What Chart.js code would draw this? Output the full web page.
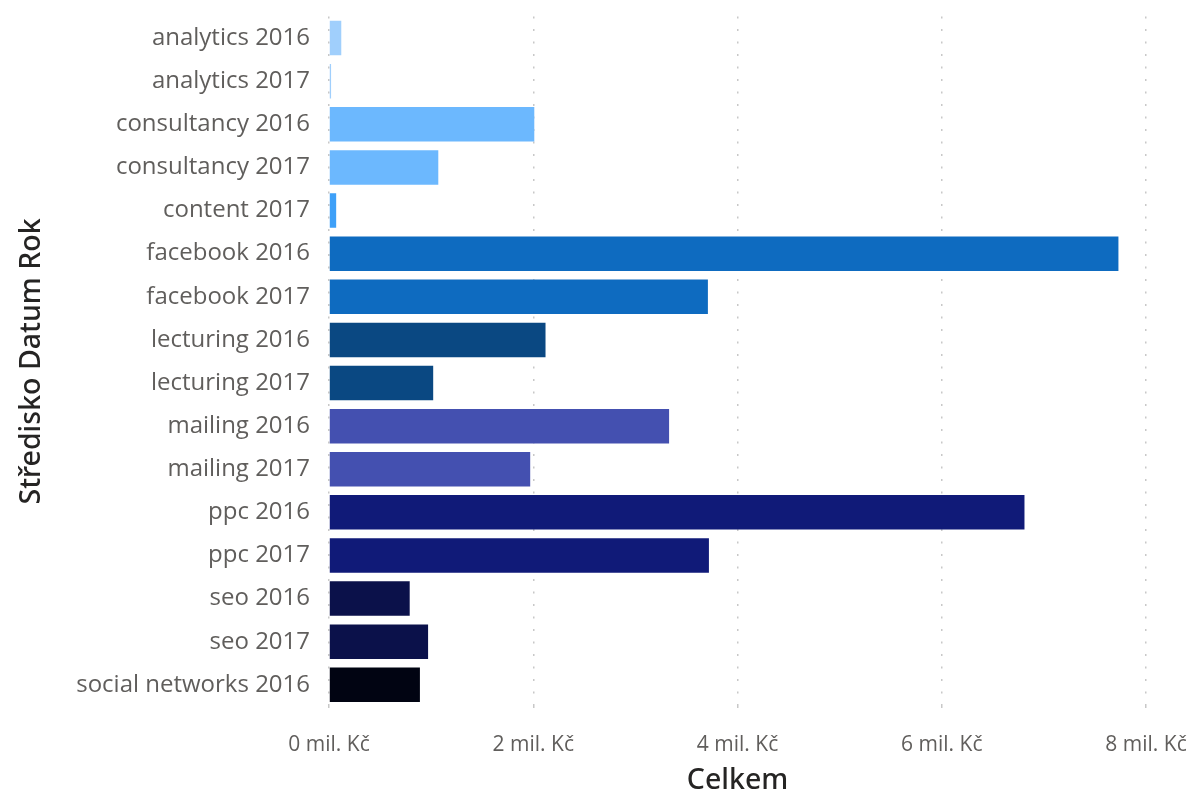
<!DOCTYPE html>
<html>
<head>
<meta charset="utf-8">
<script src="https://cdn.jsdelivr.net/npm/chart.js@4/dist/chart.umd.min.js"></script>
<style>
  body { margin: 0; background: #fff; }
  #wrap { width: 1192px; height: 796px; }
</style>
</head>
<body>
<div id="wrap"><canvas id="chart"></canvas></div>
<script>
const labels = [
  "analytics 2016", "analytics 2017", "consultancy 2016", "consultancy 2017",
  "content 2017", "facebook 2016", "facebook 2017", "lecturing 2016",
  "lecturing 2017", "mailing 2016", "mailing 2017", "ppc 2016",
  "ppc 2017", "seo 2016", "seo 2017", "social networks 2016"
];
// celkem v mil. Kč
const totals = [0.12, 0.02, 2.01, 1.07, 0.07, 7.73, 3.71, 2.12, 1.02, 3.33, 1.97, 6.81, 3.72, 0.79, 0.97, 0.89];
const colors = [
  "#a0cffc", "#a0cffc", "#6cb8fe", "#6cb8fe", "#3ea0f8", "#0e6bc0", "#0e6bc0",
  "#0a4882", "#0a4882", "#4450b0", "#4450b0", "#101a78", "#101a78",
  "#0b114a", "#0b114a", "#010412"
];
const xTicks = [0, 2, 4, 6, 8];

const chart = new Chart(document.getElementById("chart"), {
  type: "bar",
  data: {
    labels: labels,
    datasets: [{
      data: totals,
      backgroundColor: colors,
      categoryPercentage: 0.8,
      barPercentage: 1.0,
    }],
  },
  options: {
    indexAxis: "y",
    responsive: true,
    maintainAspectRatio: false,
    animation: false,
    layout: { padding: { top: 0, right: 0, left: 15, bottom: -1.9 } },
    plugins: { legend: { display: false }, tooltip: { enabled: false } },
    scales: {
      x: {
        min: 0,
        max: 8,
        afterBuildTicks: (axis) => { axis.ticks = xTicks.map((v) => ({ value: v })); },
        // keep the 8 mil. label close to the right edge
        afterFit: (axis) => { axis.paddingRight = 46; },
        grid: {
          color: "#c8c8c8",
          lineWidth: 1.5,
          drawTicks: true,
          tickLength: 12,
          tickColor: "#c8c8c8",
          tickBorderDash: [2, 10.5],
        },
        border: { display: false, dash: [2, 10.5] },
        ticks: {
          color: "#605e5c",
          font: { family: "'Open Sans', 'Noto Sans', sans-serif", size: 21 },
          padding: 14,
          maxRotation: 0,
          callback: (v) => v + " mil. Kč",
        },
        title: {
          display: true,
          text: "Celkem",
          color: "#252423",
          font: { family: "'Noto Sans', 'Open Sans', sans-serif", size: 28.5, weight: "500" },
          padding: { top: -7.9, bottom: 0 },
        },
      },
      y: {
        afterFit: (axis) => { axis.paddingTop = 16.5; axis.paddingBottom = 0; },
        grid: { display: false, drawTicks: false },
        border: { display: false },
        ticks: {
          color: "#605e5c",
          font: { family: "'Open Sans', 'Noto Sans', sans-serif", size: 24 },
          padding: 19,
        },
        title: {
          display: true,
          text: "Středisko Datum Rok",
          color: "#252423",
          font: { family: "'Noto Sans', 'Open Sans', sans-serif", size: 28.5, weight: "500" },
          padding: { top: 0, bottom: 8 },
        },
      },
    },
  },
});
</script>
</body>
</html>
